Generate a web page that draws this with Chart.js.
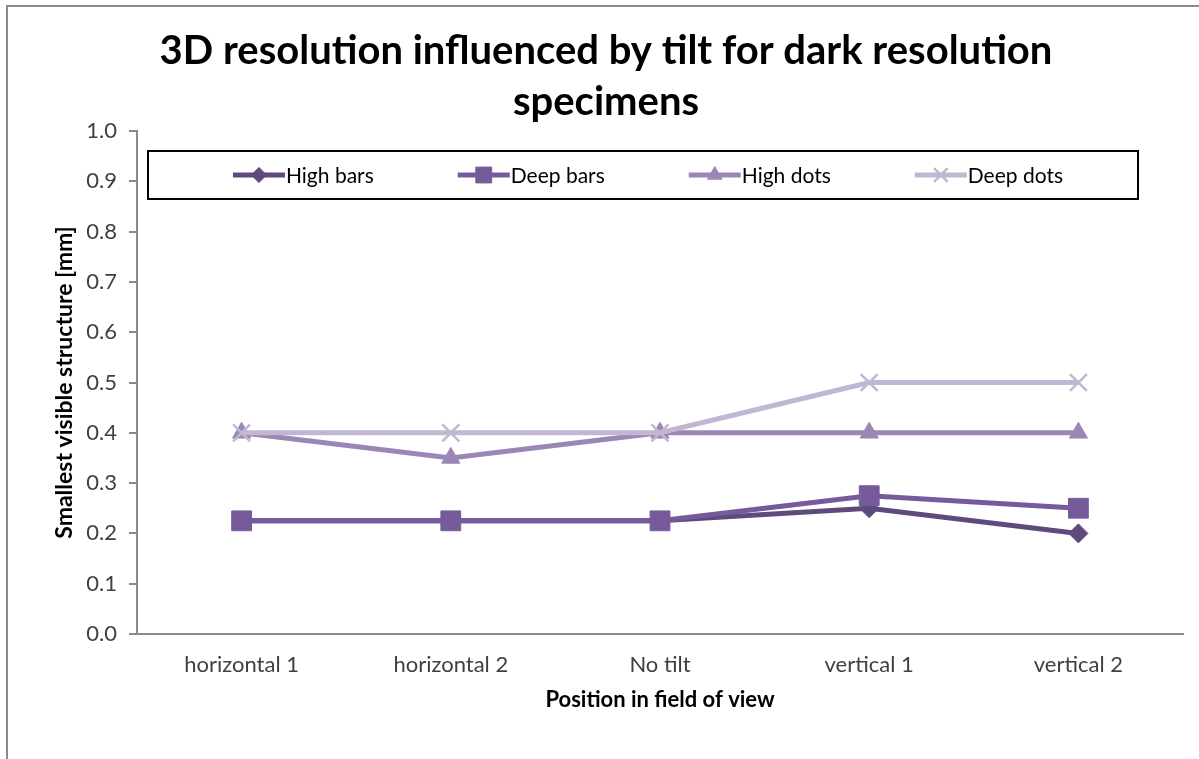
<!DOCTYPE html>
<html>
<head>
<meta charset="utf-8">
<script src="https://cdn.jsdelivr.net/npm/chart.js@4/dist/chart.umd.min.js"></script>
<style>
  html, body { margin: 0; padding: 0; background: #ffffff; }
  canvas { display: block; }
</style>
</head>
<body>
<canvas id="c" width="1199" height="759"></canvas>
<script>
// Positions across the field of view
const categories = ['horizontal 1', 'horizontal 2', 'No tilt', 'vertical 1', 'vertical 2'];

// Smallest visible structure [mm] per specimen type
const highBars = [0.225, 0.225, 0.225, 0.25, 0.2];
const deepBars = [0.225, 0.225, 0.225, 0.275, 0.25];
const highDots = [0.4, 0.35, 0.4, 0.4, 0.4];
const deepDots = [0.4, 0.4, 0.4, 0.5, 0.5];

const seriesNames = ['High bars', 'Deep bars', 'High dots', 'Deep dots'];
const titleLines = ['3D resolution influenced by tilt for dark resolution', 'specimens'];
const yTitle = 'Smallest visible structure [mm]';
const xTitle = 'Position in field of view';

const FONT = 'Lato, "Open Sans", "DejaVu Sans", sans-serif';
const AXIS_GREY = '#8a8a8a';
const TEXT_GREY = '#404040';

function series(label, data, color, style, radius, pbw, order) {
  return {
    label, data,
    borderColor: color,
    backgroundColor: color,
    borderWidth: 5,
    pointStyle: style,
    pointRadius: radius,
    pointHoverRadius: radius,
    pointBackgroundColor: color,
    pointBorderColor: color,
    pointBorderWidth: pbw,
    tension: 0,
    order
  };
}

const datasets = [
  series(seriesNames[0], highBars, '#5e4a7c', 'rectRot', 9.5, 1, 3),
  series(seriesNames[1], deepBars, '#775a9b', 'rect', 14, 1, 2),
  series(seriesNames[2], highDots, '#9a87b5', 'triangle', 10.5, 1, 1),
  series(seriesNames[3], deepDots, '#c1b7d3', 'crossRot', 12, 2.5, 0)
];

// Outer frame of the chart object (left and top edges)
const framePlugin = {
  id: 'frame',
  beforeDraw(chart) {
    const ctx = chart.ctx;
    ctx.save();
    ctx.fillStyle = '#ffffff';
    ctx.fillRect(0, 0, chart.width, chart.height);
    ctx.strokeStyle = AXIS_GREY;
    ctx.lineWidth = 2;
    ctx.beginPath();
    ctx.moveTo(7, chart.height);
    ctx.lineTo(7, 6);
    ctx.lineTo(chart.width, 6);
    ctx.stroke();
    ctx.restore();
  }
};

// Boxed legend with line-and-marker keys, drawn inside the plot area
const boxLegendPlugin = {
  id: 'boxLegend',
  afterDraw(chart) {
    const ctx = chart.ctx;
    const area = chart.chartArea;
    const left = area.left + 11, right = area.right - 45;
    const top = area.top + 20, height = 48;
    const midY = top + height / 2;
    ctx.save();
    ctx.fillStyle = '#ffffff';
    ctx.fillRect(left, top, right - left, height);
    ctx.strokeStyle = '#000000';
    ctx.lineWidth = 2;
    ctx.strokeRect(left, top, right - left, height);

    ctx.font = '21px ' + FONT;
    ctx.textBaseline = 'middle';
    ctx.textAlign = 'left';
    const keyLen = 52, gap = 84;
    const items = chart.data.datasets.map(ds => ({ ds, w: keyLen + 1 + ctx.measureText(ds.label).width }));
    const total = items.reduce((s, it) => s + it.w, 0) + gap * (items.length - 1);
    let x = (left + right) / 2 - total / 2 + 5;
    const drawPoint = Chart.helpers && Chart.helpers.drawPoint;
    items.forEach(it => {
      const ds = it.ds;
      ctx.strokeStyle = ds.borderColor;
      ctx.lineWidth = 5;
      ctx.beginPath();
      ctx.moveTo(x, midY);
      ctx.lineTo(x + keyLen, midY);
      ctx.stroke();
      if (drawPoint) {
        ctx.fillStyle = ds.pointBackgroundColor;
        ctx.strokeStyle = ds.pointBorderColor;
        ctx.lineWidth = ds.pointBorderWidth;
        drawPoint(ctx, {
          pointStyle: ds.pointStyle,
          rotation: 0,
          radius: ds.pointRadius * 0.8,
          borderWidth: ds.pointBorderWidth
        }, x + keyLen / 2, midY);
      }
      ctx.fillStyle = '#000000';
      ctx.fillText(ds.label, x + keyLen + 1, midY + 1);
      x += it.w + gap;
    });
    ctx.restore();
  }
};

new Chart(document.getElementById('c'), {
  type: 'line',
  data: { labels: categories, datasets },
  plugins: [framePlugin, boxLegendPlugin],
  options: {
    responsive: false,
    animation: false,
    devicePixelRatio: 1,
    layout: { padding: { left: 29, right: 16, top: 0, bottom: 0 } },
    plugins: {
      legend: { display: false },
      tooltip: { enabled: false },
      title: {
        display: true,
        text: titleLines,
        color: '#000000',
        font: { family: FONT, size: 40, weight: 'bold', lineHeight: 51 / 40 },
        padding: { top: 26, bottom: 3 }
      }
    },
    scales: {
      x: {
        type: 'category',
        offset: true,
        grid: { display: false, drawTicks: false },
        border: { display: true, color: AXIS_GREY, width: 2 },
        ticks: {
          color: TEXT_GREY,
          font: { family: FONT, size: 22 },
          padding: 18,
          maxRotation: 0,
          autoSkip: false
        },
        title: {
          display: true,
          text: xTitle,
          color: '#000000',
          font: { family: FONT, size: 22, weight: 'bold' },
          padding: { top: 0, bottom: 46 }
        },
        afterFit(scale) { scale.height = 125; }
      },
      y: {
        min: 0,
        max: 1,
        grid: {
          drawOnChartArea: false,
          drawTicks: true,
          tickLength: 8,
          color: AXIS_GREY,
          lineWidth: 2
        },
        border: { display: true, color: AXIS_GREY, width: 2 },
        ticks: {
          stepSize: 0.1,
          color: TEXT_GREY,
          font: { family: FONT, size: 22 },
          padding: 12,
          callback: v => Number(v).toFixed(1)
        },
        title: {
          display: true,
          text: yTitle,
          color: '#000000',
          font: { family: FONT, size: 23, weight: 'bold' },
          padding: { top: 22, bottom: 0 }
        },
        afterFit(scale) { scale.width = 108; }
      }
    }
  }
});
</script>
</body>
</html>
